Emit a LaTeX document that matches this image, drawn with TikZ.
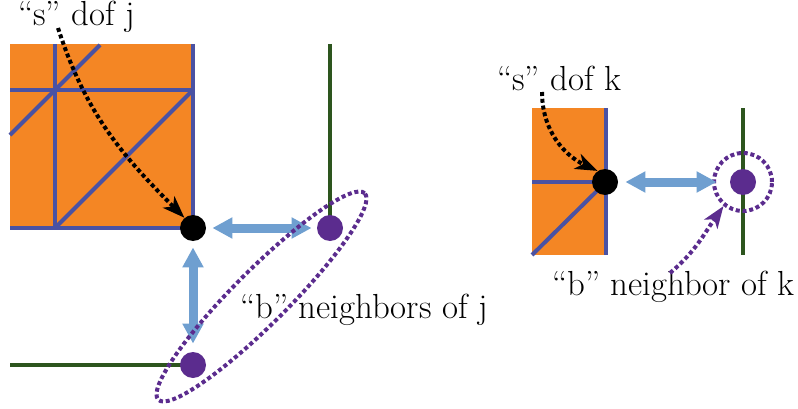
\documentclass[tikz,border=0pt]{standalone}
\usepackage{fontspec}
\usetikzlibrary{arrows.meta,shapes.geometric}
\definecolor{meshorange}{RGB}{244,134,36}
\definecolor{meshblue}{RGB}{74,82,163}
\definecolor{bdgreen}{RGB}{45,85,30}
\definecolor{bpurple}{RGB}{91,44,142}
\definecolor{linkblue}{RGB}{111,159,208}
\begin{document}
\begin{tikzpicture}[x=0.5pt,y=0.5pt,
  meshline/.style={line width=2pt, draw=meshblue},
  bdline/.style={line width=2pt, draw=bdgreen},
  sdot/.style={circle, fill=black, inner sep=0pt, minimum size=13pt},
  bdot/.style={circle, fill=bpurple, inner sep=0pt, minimum size=13pt},
  link/.style={draw=linkblue, line width=4.5pt, {Triangle[length=10pt,width=10pt]}-{Triangle[length=10pt,width=10pt]}},
  pointer/.style={line width=2pt, dash pattern=on 2pt off 1.4pt, -{Stealth[length=11pt,width=8pt,inset=3pt]}},
  ring/.style={draw=bpurple, line width=2pt, dash pattern=on 2pt off 1.4pt},
  txt/.style={font=\fontsize{17.4}{21}\selectfont, inner sep=0pt, anchor=base west},
]
\useasboundingbox (0,0) rectangle (798,408);
% ---------- left ----------
\fill[meshorange] (10,364) rectangle (193,180);
\draw[meshline] (55,364) -- (55,180);
\draw[meshline] (10,318) -- (193,318);
\draw[meshline] (193,364) -- (193,180);
\draw[meshline] (10,180) -- (193,180);
\draw[meshline] (10,273) -- (100,363);
\draw[meshline] (55,180) -- (193,318);
\draw[bdline] (330,364) -- (330,180);
\draw[bdline] (10,43) -- (193,43);
\node[sdot] (dj) at (193,180) {};
\node[bdot] (bja) at (330,180) {};
\node[bdot] (bjb) at (193,43) {};
\draw[link, shorten <=3pt, shorten >=2.5pt] (dj) -- (bja);
\draw[link, shorten <=3pt, shorten >=4pt] (dj) -- (bjb);
\node[ring, ellipse, rotate=45, minimum width=146pt, minimum height=27pt, inner sep=0pt] (nbj) at (261.5,111.5) {};
\node[txt] (tsj) at (18,382) {``s'' dof j};
\node[txt] (tbj) at (240,90) {``b'' neighbors of j};
\coordinate (sj) at (58,380);
\draw[pointer] (sj) to[out=-72,in=135] (dj.130);
% ---------- right ----------
\fill[meshorange] (532,300) rectangle (607,153);
\draw[meshline] (606,300) -- (606,153);
\draw[meshline] (532,226) -- (606,226);
\draw[meshline] (532,153) -- (606,226);
\draw[bdline] (743,300) -- (743,153);
\node[sdot] (dk) at (605,226) {};
\node[bdot] (bk) at (743,226) {};
\node[ring, circle, minimum size=29pt, inner sep=0pt] (nbk) at (743,226) {};
\draw[link, shorten <=3.5pt, shorten >=6.5pt] (dk) -- (bk);
\node[txt] (tsk) at (497,318) {``s'' dof k};
\node[txt] (tbk) at (552,113) {``b'' neighbor of k};
\coordinate (sk) at (542,316);
\draw[pointer] (sk) to[out=-90,in=155] (dk.124);
\coordinate (bkstart) at (670,135);
\draw[pointer, draw=bpurple] (bkstart) to[out=40,in=-125] (nbk.231);
\end{tikzpicture}
\end{document}
